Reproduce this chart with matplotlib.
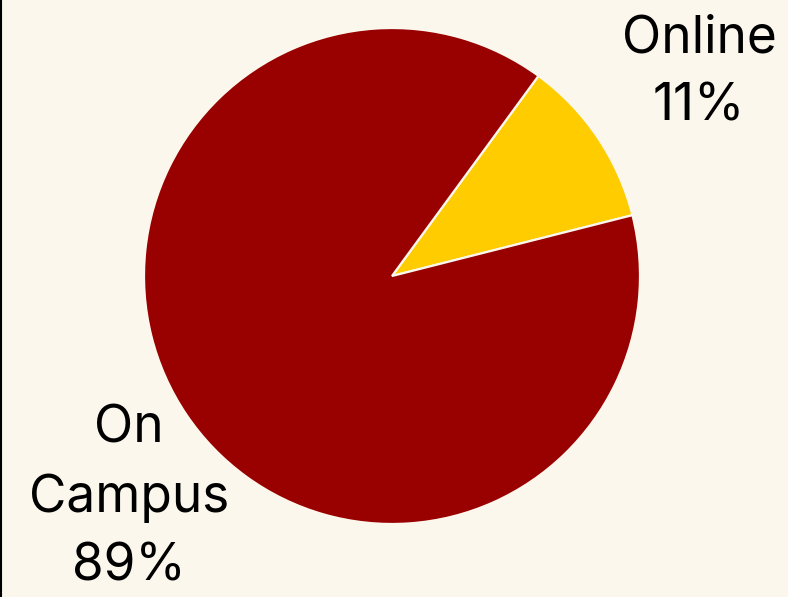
import matplotlib.pyplot as plt
from matplotlib.lines import Line2D

plt.rcParams["font.family"] = ["Inter", "DejaVu Sans"]

categories = ["Online", "On\nCampus"]
shares = [11, 89]
colors = ["#FFCC00", "#990000"]
bg = "#FCF7EC"

fig = plt.figure(figsize=(7.88, 5.97), dpi=100, facecolor=bg)
ax = fig.add_axes([0, 0, 1, 1])
ax.set_facecolor(bg)

ax.pie(
    shares,
    colors=colors,
    startangle=14.2,
    counterclock=True,
    center=(392, 321),
    radius=248,
    frame=True,
    wedgeprops=dict(edgecolor=bg, linewidth=1.6),
)
ax.set_xlim(0, 788)
ax.set_ylim(0, 597)
ax.set_aspect("auto")
ax.axis("off")

label_pos = [(699, 524), (129, 99)]
for name, val, (x, y) in zip(categories, shares, label_pos):
    ax.text(x, y, f"{name}\n{val}%", ha="center", va="center",
            fontsize=37, linespacing=1.52, color="black")

fig.add_artist(Line2D([0.001, 0.001], [0, 1], color="black", lw=1.5,
                      transform=fig.transFigure))

plt.savefig("out.png", dpi=100, facecolor=bg)
